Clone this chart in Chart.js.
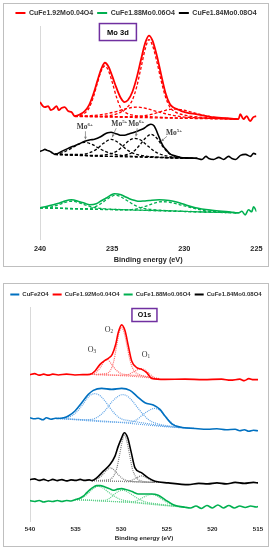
<!DOCTYPE html>
<html>
<head>
<meta charset="utf-8">
<script src="https://cdn.jsdelivr.net/npm/chart.js@4"></script>
<style>
body { margin: 0; background: #fff; }
.panel { position: absolute; left: 3px; width: 264px; height: 262px; border: 1px solid #bfbfbf; background: #fff; }
#p1 { top: 3px; }
#p2 { top: 283px; }
canvas { display: block; }
</style>
</head>
<body>
<div class="panel" id="p1"><canvas id="c1" width="264" height="262"></canvas></div>
<div class="panel" id="p2"><canvas id="c2" width="264" height="262"></canvas></div>
<script>
// ---- Mo 3d panel: [binding energy eV, intensity a.u.] ----
var moRed = [[240,136],[239.8,132],[239.66,131],[239.43,132],[239.25,128],[239.08,129],[238.85,132],[238.7,128],[238.51,130],[238.28,131],[238.05,127],[237.82,126],[237.59,122],[237.2,124],[236.9,127],[236.6,133],[236.3,144],[236.0,158],[235.75,169],[235.5,175],[235.25,171],[235.0,162],[234.7,150],[234.4,140],[234.15,136],[233.9,138],[233.6,146],[233.3,160],[233.0,178],[232.7,195],[232.45,202],[232.2,197],[231.9,182],[231.6,163],[231.3,145],[231.0,134],[230.8,131],[230.5,129],[230.2,127],[229.7,125],[229.2,124],[228.1,121],[227.0,120],[226.24,119],[226.12,124],[225.9,119],[225.67,122],[225.44,117],[225.21,121],[225.0,122]];
var moRedFit1 = [[237.59,122],[237.0,124],[236.6,130],[236.3,141],[236.0,156],[235.75,167],[235.5,172],[235.25,167],[235.0,156],[234.7,141],[234.4,130],[234.0,125],[233.4,122.5],[232.5,121.5],[231.0,120.5],[229.0,120],[226.3,119]];
var moRedFit2 = [[237.59,122],[236.0,122],[235.0,123],[234.4,126],[234.0,130],[233.6,138],[233.3,151],[233.0,170],[232.7,189],[232.45,198],[232.2,192],[231.9,176],[231.6,157],[231.3,141],[231.0,131],[230.6,126],[230.0,123],[229.0,121],[227.5,120],[226.3,119]];
var moRedFit3 = [[237.59,122],[236.5,122.5],[235.5,124],[234.6,127],[234.0,129.5],[233.3,131],[232.6,129.5],[232.0,127],[231.2,124],[230.2,121.5],[228.5,120],[226.3,119]];
var moRedFit4 = [[237.59,121.5],[234.0,121.5],[233.0,122],[232.2,124],[231.5,127],[230.8,129],[230.2,128.5],[229.5,126],[228.7,123],[227.8,120.5],[226.3,119]];
var moRedBase = [[237.59,122],[236.0,121.3],[234.0,120.8],[232.0,120.3],[230.0,119.8],[228.0,119.4],[226.3,119]];

var moBlack = [[240,87],[239.8,88],[239.66,89],[239.5,88],[239.31,87],[239.15,85.5],[238.97,84],[238.5,87],[238.05,90],[237.7,92],[237.36,94],[236.9,97],[236.5,98.5],[236.22,99],[235.8,101.5],[235.53,104],[235.3,105.5],[235.07,106],[234.85,105],[234.61,104],[234.4,103],[234.15,103],[233.8,104.5],[233.46,106],[233.1,108],[232.78,110],[232.5,113],[232.31,114],[232.1,112.5],[231.97,109],[231.8,103],[231.63,97],[231.45,92],[231.28,89],[231.1,86],[230.94,84],[230.6,82.5],[230.25,81],[229.7,80.5],[229.1,80],[228.78,79],[228.5,82],[228.3,80],[227.96,79],[227.61,81],[227.27,79],[226.93,82],[226.7,80],[226.44,79],[226.1,83],[225.76,84],[225.41,82],[225.2,85],[225.0,84]];
var moBlackFit1 = [[238.97,84],[238.4,86],[237.9,89.5],[237.4,93.5],[236.9,96],[236.4,94],[235.9,90],[235.4,86.5],[234.8,84],[234.0,82.5],[232.5,81.5],[229.1,80]];
var moBlackFit2 = [[238.97,84],[237.2,84],[236.6,85.5],[236.1,89],[235.6,95],[235.07,99],[234.6,96],[234.1,90],[233.6,85.5],[233.0,83],[231.5,81],[229.1,80]];
var moBlackFit3 = [[238.97,84],[236.0,83],[235.3,84],[234.7,87],[234.2,93],[233.8,98],[233.46,100],[233.0,98],[232.5,92],[232.0,86.5],[231.4,83],[230.5,81],[229.1,80]];
var moBlackFit4 = [[238.97,84],[235.0,82],[234.2,83],[233.6,86],[233.1,93],[232.7,100],[232.31,104],[231.9,100],[231.5,92],[231.1,85.5],[230.6,82],[229.1,80]];
var moBlackBase = [[238.97,84],[237.0,83],[235.0,82],[233.0,81.3],[231.0,80.5],[229.1,80]];

var moGreen = [[240,31],[239.5,32.5],[239.08,34],[238.7,35.5],[238.4,37],[237.82,39],[237.25,37],[236.9,35.5],[236.56,34],[236.1,35],[235.75,38],[235.41,40.7],[235.1,43.5],[234.84,45],[234.38,44],[234.1,42],[233.81,40],[233.4,38.2],[233.12,37.5],[232.8,37.8],[232.43,38.3],[231.74,39],[231.05,38.3],[230.6,37],[230.14,35],[229.22,31],[228.08,28.5],[226.93,27],[226.24,26],[226.01,27.5],[225.78,24],[225.55,29],[225.32,27],[225.2,32],[224.98,27]];
var moGreenFit1 = [[240,31],[239.2,32],[238.6,34.5],[238.1,37],[237.8,37.5],[237.4,36.5],[236.9,34],[236.3,31.5],[235.5,30],[234.0,29],[226.24,26]];
var moGreenFit2 = [[240,31],[237.0,30],[236.4,31],[235.9,34],[235.4,39],[235.0,42.5],[234.8,43.5],[234.5,42.5],[234.0,38.5],[233.5,34],[233.0,31],[232.0,29],[226.24,26]];
var moGreenFit3 = [[240,31],[234.0,29],[233.3,30],[232.7,32.5],[232.1,35.5],[231.6,37],[231.0,36.5],[230.3,34],[229.5,31],[228.5,28],[227.5,27],[226.24,26]];
var moGreenBase = [[240,31],[237.0,30],[234.0,29],[231.0,28],[228.0,26.5],[226.24,26]];

var moIons = [['Mo','6+',236.9,111],['Mo','5+',234.5,114],['Mo','6+',233.33,114],['Mo','5+',230.71,105]];
var moArrows = [[236.85,107,236.85,99],[234.72,110,235.0,101],[233.26,110,233.35,102],[231.2,102,231.6,97]];

// ---- O 1s panel ----
var oBlue = [[540,103],[539.5,102],[539.1,102.5],[538.6,101],[538.2,103],[537.7,101.5],[537.2,102.5],[536.9,102.3],[536.3,103],[535.8,104.7],[535.07,109.7],[534.33,118],[533.6,126.3],[533.06,130.3],[532.14,132.3],[531.04,131.3],[529.95,132.3],[529.04,130.3],[528.3,124.7],[527.39,118],[526.48,115.7],[525.75,111.3],[525.2,104.7],[524.46,97],[523.55,93.7],[521.9,92.3],[520.5,91.5],[519.5,92],[518.5,91],[517.5,91.5],[517,90],[516.5,91],[516,89.5],[515.5,90.5],[515,90]];
var oBlueFit1 = [[536.9,102.3],[535.8,103.5],[535.1,107],[534.4,114],[533.8,121.5],[533.3,126],[532.9,127],[532.4,125.5],[531.8,120],[531.2,112.5],[530.6,106],[530.0,102],[529.0,100],[527.0,97],[524.0,93.5],[522.0,92.3]];
var oBlueFit2 = [[536.9,102.3],[534.0,101],[533.0,102],[532.3,105.5],[531.6,112],[531.0,119],[530.4,124],[529.9,126],[529.4,125],[528.8,120],[528.2,113],[527.6,106.5],[527.0,101],[526.0,97],[524.0,94],[522.0,92.3]];
var oBlueFit3 = [[536.9,102.3],[530.0,98.5],[529.0,98.5],[528.3,101],[527.7,105.5],[527.0,110],[526.4,112.3],[525.8,110.5],[525.2,105],[524.6,99],[524.0,95],[523.0,93],[522.0,92.3]];
var oBlueBase = [[536.9,102.3],[534.0,101],[531.0,99],[528.0,96.5],[525.0,94],[522.0,92.3]];

var oRed = [[540,146],[539.5,147],[539,145.5],[538.5,146.5],[538,145.5],[537.5,146.5],[536.9,145.7],[536,146.5],[535.07,145.7],[534.2,146],[533.42,146.3],[532.87,149.7],[532.32,156.3],[531.78,160.3],[531.41,162.3],[530.98,166.3],[530.6,176.3],[530.32,188],[529.95,195.7],[529.58,189.7],[529.22,174.7],[528.85,159.7],[528.3,153],[527.75,151.3],[527.2,148],[526.66,142.3],[525.2,141.3],[523,141.5],[521,141],[519,141.5],[518,140.5],[517,141.5],[516.5,140],[516,142],[515.5,141],[515,141]];
var oRedFit1 = [[533.4,146.3],[532.8,148],[532.3,153],[531.8,160],[531.5,161],[531.1,157],[530.6,151],[530.1,147.5],[529.5,146],[528.0,145],[526.5,143]];
var oRedFit2 = [[533.4,146.3],[531.8,147],[531.2,150],[530.8,160],[530.5,175],[530.25,187],[529.95,193],[529.65,187],[529.35,174],[529.0,159],[528.6,150],[528.0,146],[526.5,143]];
var oRedFit3 = [[533.4,146.3],[530.0,145.5],[529.3,146],[528.7,148.5],[528.2,151],[527.8,152],[527.3,150],[526.8,146],[526.3,143],[525.8,142]];
var oRedBase = [[533.4,146.3],[531.0,145.5],[529.0,144.5],[527.0,143],[525.8,142]];

var oBlack = [[540,41.3],[539.5,42],[539,40.5],[538.5,41.5],[538,40],[537.5,41.5],[537,40.3],[536.5,41.3],[536,40],[535.5,41],[535,40.5],[534.5,41.5],[534,40.5],[533.5,41],[533.2,40.3],[532.69,43],[531.96,49.7],[531.23,56.3],[530.68,64.7],[530.32,74.7],[529.95,83],[529.66,88],[529.29,83],[528.93,69.7],[528.49,53],[527.75,48],[527.03,43],[526.29,39.7],[524.84,38],[522.64,36.3],[521.5,37.5],[520.5,37],[519.5,38],[518.5,37],[517.5,38.5],[516.5,37.5],[515.5,38.5],[515,38]];
var oBlackFit1 = [[533.2,40.3],[532.6,42],[532.1,45.5],[531.6,50.5],[531.2,53],[530.8,51],[530.3,46],[529.8,42],[529.2,40],[528.0,39],[526.3,38.5]];
var oBlackFit2 = [[533.2,40.3],[531.5,41],[530.9,44],[530.5,52],[530.2,65],[529.9,79],[529.66,86],[529.4,80],[529.1,67],[528.8,53],[528.4,44],[527.8,40],[526.3,38.5]];
var oBlackFit3 = [[533.2,40.3],[529.5,39.5],[528.9,40.5],[528.3,43],[527.8,45],[527.3,43.5],[526.8,41],[526.3,39.2],[525.8,38.5]];
var oBlackBase = [[533.2,40.3],[531.0,39.7],[529.0,39.2],[527.0,38.7],[525.8,38.5]];

var oGreen = [[540,20.3],[539.5,19.5],[539,20.5],[538.5,19],[538,20],[537.5,19.5],[537,20.5],[536.5,19.5],[536,20.5],[535.5,20],[535.07,21.3],[534.6,22.5],[534.16,24.7],[533.8,28],[533.42,31.3],[533.0,34],[532.69,35.3],[532.3,35.3],[531.78,34],[531.3,32.3],[530.87,30.7],[530.4,31.8],[529.95,32.3],[529.5,31.5],[529.04,30.3],[528.6,28.5],[528.13,27],[527.4,27],[526.66,27],[525.94,25.7],[525.2,21.3],[524.29,16.3],[523.0,13.7],[522.4,13],[521.8,15],[521.2,12.5],[520.6,15.5],[520,13],[519.4,16],[518.8,13],[518.2,15.5],[517.6,13],[517,15],[516.4,13.5],[515.8,15],[515.2,14],[515,14.5]];
var oGreenFit1 = [[535.07,21.3],[534.3,23],[533.7,27],[533.1,32],[532.6,34.5],[532.1,33.5],[531.5,29.5],[530.9,25.5],[530.2,22],[529.0,19.5],[527.0,17.5],[523.0,13.7]];
var oGreenFit2 = [[535.07,21.3],[532.0,20.5],[531.3,22.5],[530.7,27],[530.2,30],[529.8,30.5],[529.3,29],[528.7,25.5],[528.1,22],[527.3,19],[526.0,17],[523.0,13.7]];
var oGreenFit3 = [[535.07,21.3],[529.0,19],[528.2,20.5],[527.6,23.5],[527.0,26],[526.6,26.5],[526.1,25],[525.5,21.5],[524.9,18],[524.2,15.5],[523.0,13.7]];
var oGreenBase = [[535.07,21.3],[532.0,20],[529.0,18.5],[526.0,16],[523.0,13.7]];

var oSites = [['O','3',533.2,171],['O','2',531.34,191],['O','1',527.28,166]];

var RED = '#ff0000', GREEN = '#00b050', BLACK = '#000000', BLUE = '#0070c0';

function series(pts, color, width, dash, label) {
    return {
        label: label,
        data: pts.map(function (p) { return {x: p[0], y: p[1]}; }),
        borderColor: color,
        backgroundColor: color,
        borderWidth: width,
        borderDash: dash || [],
        pointRadius: 0,
        fill: false,
        cubicInterpolationMode: 'monotone'
    };
}

// text with a small raised/lowered part, e.g. Mo6+ or O2
function drawScript(ctx, base, small, x, y, size, up, bold) {
    var w = bold ? 'bold ' : '';
    var f1 = w + size + 'px "Liberation Serif"';
    var f2 = w + (size * 0.65) + 'px "Liberation Serif"';
    ctx.font = f1;
    var w1 = ctx.measureText(base).width;
    ctx.font = f2;
    var w2 = ctx.measureText(small).width;
    var x0 = x - (w1 + w2) / 2;
    ctx.textAlign = 'left';
    ctx.textBaseline = 'middle';
    ctx.font = f1;
    ctx.fillText(base, x0, y);
    ctx.font = f2;
    ctx.fillText(small, x0 + w1, y + (up ? -size * 0.35 : size * 0.3));
}

function notesPlugin(n) {
    return {
        id: 'notes',
        beforeLayout: function (chart) {
            chart.legend.afterFit = function () { this.height += n.legendExtra; };
        },
        afterDatasetsDraw: function (chart) {
            var ctx = chart.ctx, sx = chart.scales.x, sy = chart.scales.y;
            ctx.save();
            // panel tag box
            var bx = sx.getPixelForValue(n.tag[1]), by = sy.getPixelForValue(n.tag[2]);
            ctx.fillStyle = '#ffffff';
            ctx.fillRect(bx - n.tagW / 2, by - n.tagH / 2, n.tagW, n.tagH);
            ctx.strokeStyle = '#7030a0';
            ctx.lineWidth = 1.5;
            ctx.strokeRect(bx - n.tagW / 2, by - n.tagH / 2, n.tagW, n.tagH);
            ctx.fillStyle = '#000000';
            ctx.font = 'bold ' + n.tagSize + 'px "Liberation Sans"';
            ctx.textAlign = 'center';
            ctx.textBaseline = 'middle';
            ctx.fillText(n.tag[0], bx, by + 0.5);
            // arrows
            ctx.strokeStyle = '#808080';
            ctx.fillStyle = '#808080';
            ctx.lineWidth = 0.8;
            (n.arrows || []).forEach(function (a) {
                var x1 = sx.getPixelForValue(a[0]), y1 = sy.getPixelForValue(a[1]);
                var x2 = sx.getPixelForValue(a[2]), y2 = sy.getPixelForValue(a[3]);
                ctx.beginPath();
                ctx.moveTo(x1, y1);
                ctx.lineTo(x2, y2);
                ctx.stroke();
                var ang = Math.atan2(y2 - y1, x2 - x1);
                ctx.beginPath();
                ctx.moveTo(x2, y2);
                ctx.lineTo(x2 - 3 * Math.cos(ang - 0.5), y2 - 3 * Math.sin(ang - 0.5));
                ctx.lineTo(x2 - 3 * Math.cos(ang + 0.5), y2 - 3 * Math.sin(ang + 0.5));
                ctx.closePath();
                ctx.fill();
            });
            // ion / site labels
            ctx.fillStyle = n.labelColor;
            n.labels.forEach(function (l) {
                drawScript(ctx, l[0], l[1], sx.getPixelForValue(l[2]), sy.getPixelForValue(l[3]),
                    n.labelSize, n.labelUp, n.labelBold);
            });
            ctx.restore();
        }
    };
}

function makeChart(id, o) {
    return new Chart(document.getElementById(id), {
        type: 'line',
        data: { datasets: o.datasets },
        options: {
            responsive: false,
            animation: false,
            devicePixelRatio: 1,
            layout: { padding: { top: o.padTop, left: 0, right: 0, bottom: 0 } },
            plugins: {
                tooltip: { enabled: false },
                legend: {
                    position: 'top',
                    labels: {
                        boxWidth: o.boxW,
                        boxHeight: 2,
                        padding: 4,
                        color: '#333333',
                        font: { family: 'Liberation Sans', weight: 'bold', size: o.legendSize },
                        generateLabels: function (chart) {
                            return Chart.defaults.plugins.legend.labels.generateLabels(chart)
                                .filter(function (l) { return l.text; })
                                .map(function (l) { l.fillStyle = l.strokeStyle; l.lineWidth = 0; return l; });
                        }
                    }
                }
            },
            scales: {
                x: {
                    type: 'linear',
                    min: o.xmin,
                    max: o.xmax,
                    reverse: true,
                    grid: { display: false, drawTicks: false },
                    border: { display: false },
                    ticks: {
                        stepSize: 5,
                        padding: o.tickPad,
                        maxRotation: 0,
                        color: '#262626',
                        font: { family: 'Liberation Sans', weight: 'bold', size: o.fontSize }
                    },
                    title: {
                        display: true,
                        text: 'Binding energy (eV)',
                        color: '#262626',
                        font: { family: 'Liberation Sans', weight: 'bold', size: o.fontSize },
                        padding: { top: 0, bottom: o.titlePad }
                    },
                    afterFit: function (s) { s.height = o.xHeight; }
                },
                y: {
                    min: 0,
                    max: o.ymax,
                    grid: { display: false, drawTicks: false },
                    border: { color: '#d9d9d9', width: 1 },
                    ticks: { display: false },
                    afterFit: function (s) { s.width = o.leftW; }
                },
                y2: {
                    position: 'right',
                    grid: { display: false, drawTicks: false },
                    border: { display: false },
                    ticks: { display: false },
                    afterFit: function (s) { s.width = 10; }
                }
            }
        },
        plugins: [notesPlugin(o.notes)]
    });
}

var dash = [3, 2], dot = [1, 1];

makeChart('c1', {
    xmin: 225, xmax: 240, ymax: 211, leftW: 36, xHeight: 27, tickPad: 5.5, titlePad: 1.6,
    fontSize: 7.3, legendSize: 7, boxW: 10, padTop: 1.5,
    datasets: [
        series(moRed, RED, 1.8, null, 'CuFe1.92Mo0.04O4'),
        series(moGreen, GREEN, 1.6, null, 'CuFe1.88Mo0.06O4'),
        series(moBlack, BLACK, 1.6, null, 'CuFe1.84Mo0.08O4'),
        series(moRedFit1, RED, 1.3, dash), series(moRedFit2, RED, 1.3, dash),
        series(moRedFit3, RED, 1.3, dash), series(moRedFit4, RED, 1.3, dash),
        series(moRedBase, RED, 1.3, dash),
        series(moBlackFit1, BLACK, 1.3, dash), series(moBlackFit2, BLACK, 1.3, dash),
        series(moBlackFit3, BLACK, 1.3, dash), series(moBlackFit4, BLACK, 1.3, dash),
        series(moBlackBase, BLACK, 1.3, dash),
        series(moGreenFit1, GREEN, 1.3, dash), series(moGreenFit2, GREEN, 1.3, dash),
        series(moGreenFit3, GREEN, 1.3, dash), series(moGreenBase, GREEN, 1.3, dash)
    ],
    notes: {
        legendExtra: 7.5,
        tag: ['Mo 3d', 234.6, 205.5], tagW: 37, tagH: 17, tagSize: 7.5,
        labels: moIons, arrows: moArrows, labelSize: 7.5, labelUp: true, labelBold: true,
        labelColor: '#404040'
    }
});

makeChart('c2', {
    xmin: 515, xmax: 540, ymax: 213, leftW: 26, xHeight: 25, tickPad: 4.3, titlePad: 4.3,
    fontSize: 6.2, legendSize: 6, boxW: 9, padTop: 3.5,
    datasets: [
        series(oBlue, BLUE, 1.6, null, 'CuFe2O4'),
        series(oRed, RED, 1.6, null, 'CuFe1.92Mo0.04O4'),
        series(oGreen, GREEN, 1.6, null, 'CuFe1.88Mo0.06O4'),
        series(oBlack, BLACK, 1.6, null, 'CuFe1.84Mo0.08O4'),
        series(oBlueFit1, '#5ea3e6', 1.2, dot), series(oBlueFit2, '#5ea3e6', 1.2, dot),
        series(oBlueFit3, '#5ea3e6', 1.2, dot), series(oBlueBase, '#5ea3e6', 1.2, dot),
        series(oRedFit1, '#ff6b6b', 1.2, dot), series(oRedFit2, '#ff6b6b', 1.2, dot),
        series(oRedFit3, '#ff6b6b', 1.2, dot), series(oRedBase, '#ff6b6b', 1.2, dot),
        series(oBlackFit1, '#808080', 1.2, dot), series(oBlackFit2, '#808080', 1.2, dot),
        series(oBlackFit3, '#808080', 1.2, dot), series(oBlackBase, '#808080', 1.2, dot),
        series(oGreenFit1, '#5fd08a', 1.2, dot), series(oGreenFit2, '#5fd08a', 1.2, dot),
        series(oGreenFit3, '#5fd08a', 1.2, dot), series(oGreenBase, '#5fd08a', 1.2, dot)
    ],
    notes: {
        legendExtra: 6.5,
        tag: ['O1s', 527.45, 205.5], tagW: 25, tagH: 13, tagSize: 7,
        labels: oSites, arrows: [], labelSize: 8, labelUp: false, labelBold: false,
        labelColor: '#333333'
    }
});
</script>
</body>
</html>
